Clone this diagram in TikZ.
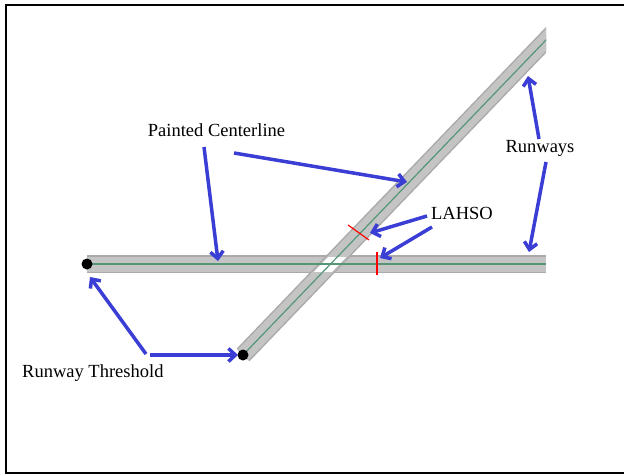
\documentclass[tikz,border=0pt]{standalone}
\usepackage{fontspec}
\setmainfont{Liberation Serif}
\usetikzlibrary{arrows.meta}
\definecolor{rwgray}{RGB}{196,196,196}
\definecolor{rwedge}{RGB}{170,170,170}
\definecolor{clgreen}{RGB}{84,150,118}
\definecolor{ptblue}{RGB}{58,62,212}

\begin{document}
\begin{tikzpicture}[x=1pt, y=-1pt,
		runway/.style={line width=18pt, color=rwedge},
		runwayin/.style={line width=15pt, color=rwgray},
		centerline/.style={line width=1.2pt, color=clgreen},
		pointer/.style={-{Straight Barb[length=7pt,width=13pt]}, line width=3.5pt, color=ptblue},
		lahso/.style={line width=1.2pt, color=red},
		lbl/.style={font=\fontsize{18.5}{20}\selectfont, anchor=base, inner sep=0pt}]
			\useasboundingbox (0,0) rectangle (624,474);
			\draw[line width=1.5pt] (624,5) -- (6,5) -- (6,473) -- (624,473);
			\coordinate (thA) at (87,264);
			\coordinate (endA) at (546,264);
			\coordinate (thB) at (243,355);
			\coordinate (endB) at (576,8.8);
			\begin{scope}
				\clip (0,0) rectangle (546,474);
				\draw[runway] (thA) -- (endA);
				\draw[runwayin] (thA) -- (endA);
				\draw[runway] (thB) -- (endB);
				\draw[runwayin] (thB) -- (endB);
				\begin{scope}
					\clip (0,257) rectangle (624,271);
					\draw[white, line width=13pt] (thB) -- (endB);
				\end{scope}
				\draw[centerline] (thA) -- (endA);
				\draw[centerline] (thB) -- (endB);
			\end{scope}
			\draw[lahso] (348,225) -- (369,240);
			\draw[lahso] (377,252) -- (377,275);
			\fill (thA) circle (5.5pt);
			\fill (thB) circle (5.5pt);
			\node[lbl] (pclabel) at (216.5,136) {Painted Centerline};
			\node[lbl] (rwlabel) at (540,152) {Runways};
			\node[lbl] (lhlabel) at (462,219) {LAHSO};
			\node[lbl, anchor=base west] (thlabel) at (22,377) {Runway Threshold};
			\coordinate (pcA) at (204,147);
			\coordinate (pcAtip) at (218,261);
			\coordinate (pcB) at (234,153);
			\coordinate (pcBtip) at (407,182);
			\coordinate (rwA) at (539,139);
			\coordinate (rwAtip) at (528,76);
			\coordinate (rwB) at (546,162);
			\coordinate (rwBtip) at (529,252);
			\coordinate (lhA) at (427,216);
			\coordinate (lhAtip) at (370,233);
			\coordinate (lhB) at (432,227);
			\coordinate (lhBtip) at (380,258);
			\coordinate (thsA) at (146,354);
			\coordinate (thsAtip) at (90,277);
			\coordinate (thsB) at (150,355);
			\coordinate (thsBtip) at (238,355);
			\draw[pointer] (pcA) -- (pcAtip);
			\draw[pointer] (pcB) -- (pcBtip);
			\draw[pointer] (rwA) -- (rwAtip);
			\draw[pointer] (rwB) -- (rwBtip);
			\draw[pointer] (lhA) -- (lhAtip);
			\draw[pointer] (lhB) -- (lhBtip);
			\draw[pointer] (thsA) -- (thsAtip);
			\draw[pointer] (thsB) -- (thsBtip);
	\end{tikzpicture}
\end{document}
